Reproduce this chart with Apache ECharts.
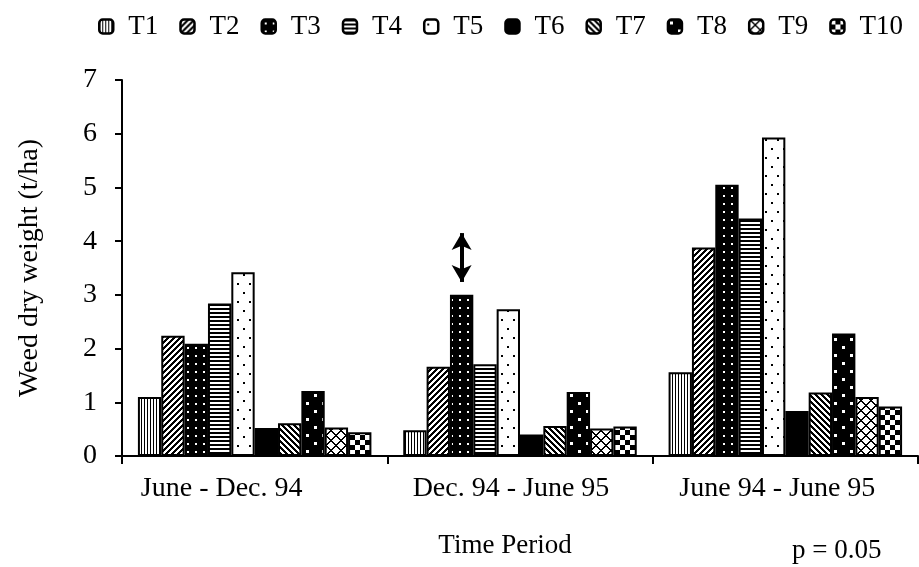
<!DOCTYPE html>
<html><head><meta charset="utf-8">
<script src="https://cdn.jsdelivr.net/npm/echarts@6/dist/echarts.min.js"></script>
<style>html,body{margin:0;padding:0;background:#fff}#c{width:919px;height:567px}</style>
</head><body><div id="c"></div>
<script>
// ---- data ----
const categories = ['June - Dec. 94', 'Dec. 94 - June 95', 'June 94 - June 95'];
const seriesNames = ['T1', 'T2', 'T3', 'T4', 'T5', 'T6', 'T7', 'T8', 'T9', 'T10'];
const T1  = [1.10, 0.48, 1.56];
const T2  = [2.24, 1.66, 3.88];
const T3  = [2.09, 3.00, 5.05];
const T4  = [2.84, 1.71, 4.42];
const T5  = [3.42, 2.73, 5.93];
const T6  = [0.52, 0.40, 0.84];
const T7  = [0.61, 0.56, 1.18];
const T8  = [1.21, 1.19, 2.28];
const T9  = [0.53, 0.51, 1.10];
const T10 = [0.44, 0.55, 0.92];
const yTicks = [0, 1, 2, 3, 4, 5, 6, 7];
const lsdRange = [3.24, 4.15];      // double arrow (p = 0.05)
const lsdCategory = categories[1];
const pNote = 'p = 0.05';

const values = [T1, T2, T3, T4, T5, T6, T7, T8, T9, T10];

// ---- fill patterns ----
function tile(w, h, fn) {
  const c = document.createElement('canvas'); c.width = w; c.height = h;
  const ctx = c.getContext('2d');
  const img = ctx.createImageData(w, h);
  for (let y = 0; y < h; y++) for (let x = 0; x < w; x++) {
    const v = fn(x, y) ? 0 : 255; const i = (y * w + x) * 4;
    img.data[i] = img.data[i + 1] = img.data[i + 2] = v; img.data[i + 3] = 255;
  }
  ctx.putImageData(img, 0, 0);
  return { image: c, repeat: 'repeat' };
}
const mod = (a, n) => ((a % n) + n) % n;
const patterns = [
  tile(3, 3, (x, y) => x % 3 === 0),                                   // T1 vertical
  tile(6, 6, (x, y) => mod(x + y, 6) < 3),                             // T2 /
  tile(8, 8, (x, y) => !((x === 3 || x === 4) && (y === 3 || y === 4))), // T3 black + white dots
  tile(4, 4, (x, y) => y % 4 < 2),                                     // T4 horizontal
  tile(12, 18, (x, y) => ((x >= 3 && x < 5) && (y >= 4 && y < 6)) || ((x >= 9 && x < 11) && (y >= 13 && y < 15))), // T5 dots
  '#000',                                                               // T6 solid
  tile(6, 6, (x, y) => mod(x - y, 6) < 3),                             // T7 \
  tile(16, 16, (x, y) => !(((x >= 2 && x < 5) && (y >= 2 && y < 5)) || ((x >= 10 && x < 13) && (y >= 10 && y < 13)))), // T8
  tile(10, 10, (x, y) => mod(x + y, 10) < 2 || mod(x - y, 10) < 2),    // T9 crosshatch
  tile(10, 10, (x, y) => ((Math.floor(x / 5) + Math.floor(y / 5)) % 2) === 1) // T10 checker
];

const FONT = 'Liberation Serif';
const labelPad = [[0, 66, 0, 0], [0, 18, 0, 0], [0, 16, 0, 0]];

const series = seriesNames.map((name, i) => {
  const s = {
    name, type: 'bar', data: values[i],
    barGap: '0%', barCategoryGap: '12%',
    itemStyle: { color: patterns[i], borderColor: '#000', borderWidth: 2 },
    emphasis: { disabled: true }
  };
  if (name === 'T3') {
    s.markLine = {
      silent: true, symbol: ['arrow', 'arrow'], symbolSize: [15, 17],
      label: { show: false },
      lineStyle: { color: '#000', width: 4, type: 'solid' },
      data: [[{ coord: [lsdCategory, lsdRange[0]] }, { coord: [lsdCategory, lsdRange[1]] }]]
    };
  }
  return s;
});

const chart = echarts.init(document.getElementById('c'), null, { renderer: 'canvas' });
chart.setOption({
  animation: false,
  backgroundColor: '#fff',
  textStyle: { fontFamily: FONT, color: '#000' },
  title: {
    text: pNote, left: 787, top: 532,
    textStyle: { fontFamily: FONT, fontSize: 27, fontWeight: 'normal', color: '#000' }
  },
  legend: {
    data: seriesNames, left: 98, top: 13, width: 815, padding: 0, icon: 'roundRect',
    itemWidth: 14, itemHeight: 14, itemGap: 21,
    itemStyle: { borderWidth: 2.5, borderColor: '#000' },
    textStyle: { fontFamily: FONT, fontSize: 27, color: '#000', padding: [0, 0, 0, 10], width: 30, overflow: 'none' }
  },
  grid: { left: 122, right: 1, top: 80, bottom: 111 },
  xAxis: {
    type: 'category',
    data: categories.map((c, i) => ({ value: c, textStyle: { padding: labelPad[i] } })),
    name: 'Time Period', nameLocation: 'middle', nameGap: 76,
    nameTextStyle: { fontFamily: FONT, fontSize: 27, color: '#000', padding: [0, 30, 0, 0] },
    axisLine: { lineStyle: { color: '#000', width: 2 } },
    axisTick: { show: true, length: 8, lineStyle: { color: '#000', width: 2 } },
    axisLabel: { fontFamily: FONT, fontSize: 28, color: '#000', margin: 19 },
    splitLine: { show: false }
  },
  yAxis: {
    type: 'value', min: yTicks[0], max: yTicks[yTicks.length - 1], interval: 1,
    name: 'Weed dry weight (t/ha)', nameLocation: 'middle', nameGap: 78, nameRotate: 90,
    nameTextStyle: { fontFamily: FONT, fontSize: 28, color: '#000' },
    axisLine: { show: true, lineStyle: { color: '#000', width: 2 } },
    axisTick: { show: true, length: 7, lineStyle: { color: '#000', width: 2 } },
    axisLabel: { fontFamily: FONT, fontSize: 28, color: '#000', margin: 25 },
    splitLine: { show: false }
  },
  series
});
</script>
</body></html>
